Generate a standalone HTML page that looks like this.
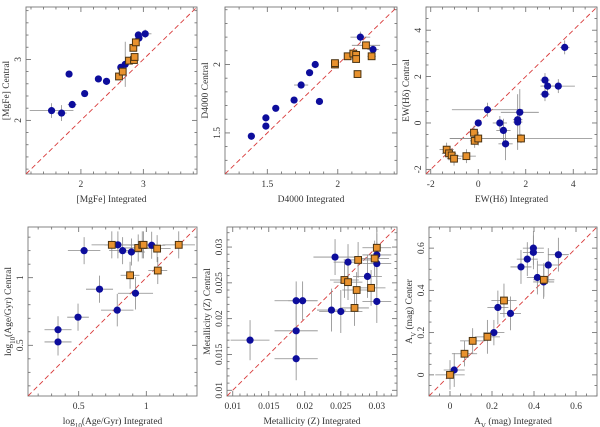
<!DOCTYPE html>
<html><head><meta charset="utf-8"><style>
html,body{margin:0;padding:0;background:#fff}
svg{display:block}
text{font-family:"Liberation Serif",serif;font-size:9.5px;fill:#333}
</style></head><body>
<svg id="chart" width="600" height="427" viewBox="0 0 600 427" xmlns="http://www.w3.org/2000/svg"></svg>
<script>
// ---- Panel 1: [MgFe]
const mgfeBlueX=[1.53,1.69,1.86,1.81,2.06,2.28,2.41,2.64,2.71,2.92,2.93,3.03];
const mgfeBlueY=[2.16,2.12,2.26,2.76,2.44,2.68,2.64,2.87,2.92,3.40,3.35,3.42];
const mgfeBlueEX=[0.35,0.08,0.07,0.03,0.03,0.03,0.03,0.03,0.05,0.03,0.03,0.1];
const mgfeBlueEY=[0.12,0.13,0.06,0.03,0.03,0.03,0.03,0.05,0.37,0.06,0.06,0.07];
const mgfeOrX=[2.61,2.67,2.77,2.85,2.86,2.84,2.88];
const mgfeOrY=[2.72,2.80,2.98,2.99,3.04,3.19,3.28];
const mgfeOrEX=[0.03,0.03,0.03,0.03,0.03,0.03,0.03];
const mgfeOrEY=[0.03,0.03,0.03,0.03,0.03,0.03,0.03];
const mgfeTicks=["2","3"];
// ---- Panel 2: D4000
const dBlueX=[1.387,1.49,1.49,1.56,1.69,1.74,1.80,1.84,1.87,2.16,2.25];
const dBlueY=[1.476,1.55,1.61,1.68,1.74,1.85,1.94,2.00,1.73,2.20,2.11];
const dBlueEX=[0.01,0.01,0.01,0.01,0.01,0.05,0.01,0.01,0.01,0.07,0.04];
const dBlueEY=[0.01,0.01,0.01,0.01,0.01,0.01,0.01,0.01,0.01,0.04,0.03];
const dOrX=[1.98,1.98,2.07,2.11,2.13,2.13,2.20,2.24,2.14];
const dOrY=[2.00,2.01,2.06,2.08,2.07,2.04,2.14,2.06,1.93];
const dOrEX=[0.01,0.01,0.01,0.01,0.01,0.01,0.1,0.03,0.01];
const dOrEY=[0.01,0.01,0.01,0.01,0.01,0.01,0.02,0.02,0.01];
const dTicks=["1.5","2"];
// ---- Panel 3: EW(Hdelta)
const hBlueX=[3.64,2.81,2.92,3.37,2.81,0.39,0,1.75,1.66,1.66,0.91,1.06,1.15];
const hBlueY=[3.26,1.85,1.59,1.59,1.24,0.57,0,0.46,0.14,0.04,0,-0.32,-0.9];
const hBlueEX=[0.2,0.2,0.3,0.7,0.2,1.5,0.1,0.8,0.2,0.2,0.3,0.3,0.3];
const hBlueEY=[0.3,0.3,0.3,0.3,0.3,0.3,0.1,1.0,0.3,1.2,0.3,0.5,0.7];
const hOrX=[-0.18,-0.15,0,1.8,-1.33,-1.23,-1.12,-1.02,-0.5];
const hOrY=[-0.42,-0.77,-0.67,-0.67,-1.15,-1.31,-1.4,-1.54,-1.43];
const hOrEX=[0.2,0.2,1.2,3.0,0.3,0.3,0.3,0.3,0.4];
const hOrEY=[0.3,0.3,0.3,0.2,0.3,0.3,0.3,0.3,0.3];
const hTicks=["-2","0","2","4"];
// ---- Panel 4: log Age
const aBlueX=[0.347,0.347,0.495,0.54,0.654,0.785,0.92,0.79,0.825,0.89,1.04];
const aBlueY=[0.615,0.525,0.708,1.20,0.915,0.76,0.885,1.243,1.20,1.19,1.24];
const aBlueEX=[0.1,0.1,0.08,0.12,0.1,0.12,0.13,0.1,0.1,0.1,0.1];
const aBlueEY=[0.1,0.1,0.1,0.1,0.1,0.12,0.12,0.1,0.1,0.1,0.1];
const aOrX=[0.745,0.94,0.97,0.98,1.08,0.88,1.085,1.24];
const aOrY=[1.243,1.22,1.243,1.243,1.215,1.018,1.053,1.243];
const aOrEX=[0.15,0.1,0.1,0.1,0.1,0.07,0.07,0.12];
const aOrEY=[0.1,0.1,0.1,0.1,0.1,0.1,0.1,0.1];
const aTicks=["0.5","1"];
// ---- Panel 5: Metallicity
const zBlueX=[0.0124,0.0188,0.0197,0.0188,0.0188,0.0237,0.0250,0.0242,0.0260,0.0287,0.0300,0.0300,0.0300];
const zBlueY=[0.0170,0.0225,0.0225,0.0183,0.0144,0.0212,0.0210,0.0286,0.0279,0.0259,0.0289,0.0277,0.0224];
const zBlueEX=[0.0027,0.003,0.002,0.003,0.003,0.002,0.003,0.003,0.002,0.002,0.002,0.002,0.002];
const zBlueEY=[0.0028,0.0027,0.0027,0.0035,0.003,0.003,0.003,0.0025,0.0025,0.003,0.003,0.003,0.003];
const zOrX=[0.0255,0.0260,0.0274,0.0272,0.0269,0.0292,0.0297,0.0300];
const zOrY=[0.0254,0.0251,0.0282,0.0240,0.0215,0.0243,0.0284,0.0299];
const zOrEX=[0.002,0.002,0.002,0.002,0.002,0.002,0.002,0.002];
const zOrEY=[0.0025,0.0025,0.0025,0.0025,0.0025,0.0025,0.0025,0.0025];
const zTicks=["0.01","0.015","0.02","0.025","0.03"];
// ---- Panel 6: Av
const vBlueX=[0.397,0.397,0.368,0.338,0.516,0.468,0.416,0.446,0.228,0.288,0.209,0.02];
const vBlueY=[0.60,0.58,0.548,0.511,0.569,0.52,0.461,0.44,0.319,0.291,0.20,0.023];
const vBlueEX=[0.05,0.05,0.05,0.05,0.05,0.05,0.05,0.05,0.05,0.05,0.05,0.05];
const vBlueEY=[0.08,0.08,0.08,0.08,0.08,0.08,0.08,0.08,0.08,0.08,0.06,0.08];
const vOrX=[0.257,0.178,0.108,0.069,0,0.447];
const vOrY=[0.352,0.18,0.161,0.10,0,0.45];
const vOrEX=[0.06,0.06,0.06,0.06,0.07,0.05];
const vOrEY=[0.08,0.08,0.06,0.06,0.07,0.08];
const vTicks=["0","0.2","0.4","0.6"];

const NS="http://www.w3.org/2000/svg";
const svg=document.getElementById('chart');
function mk(tag,attrs,parent){const e=document.createElementNS(NS,tag);for(const k in attrs)e.setAttribute(k,attrs[k]);(parent||svg).appendChild(e);return e;}

const panels=[
 {id:'mgfe',box:[26,7,197,174],r:[1.12,3.86],maj:1,min:0.2,ticks:mgfeTicks,xl:'[MgFe] Integrated',yl:'[MgFe] Central',bx:mgfeBlueX,by:mgfeBlueY,bex:mgfeBlueEX,bey:mgfeBlueEY,ox:mgfeOrX,oy:mgfeOrY,oex:mgfeOrEX,oey:mgfeOrEY},
 {id:'d4000',box:[225,7,397,174],r:[1.2,2.42],maj:0.5,min:0.1,ticks:dTicks,xl:'D4000 Integrated',yl:'D4000 Central',bx:dBlueX,by:dBlueY,bex:dBlueEX,bey:dBlueEY,ox:dOrX,oy:dOrY,oex:dOrEX,oey:dOrEY},
 {id:'hdelta',box:[426,7,597,174],r:[-2.2,5],maj:2,min:0.5,ticks:hTicks,xl:'EW(Hδ) Integrated',yl:'EW(Hδ) Central',bx:hBlueX,by:hBlueY,bex:hBlueEX,bey:hBlueEY,ox:hOrX,oy:hOrY,oex:hOrEX,oey:hOrEY},
 {id:'age',box:[28,227,197,396],r:[0.125,1.375],maj:0.5,min:0.1,ticks:aTicks,xl:'log10age Integrated',yl:'log10age Central',bx:aBlueX,by:aBlueY,bex:aBlueEX,bey:aBlueEY,ox:aOrX,oy:aOrY,oex:aOrEX,oey:aOrEY},
 {id:'metal',box:[227,227,397,396],r:[0.0092,0.0328],maj:0.005,min:0.001,ticks:zTicks,xl:'Metallicity (Z) Integrated',yl:'Metallicity (Z) Central',bx:zBlueX,by:zBlueY,bex:zBlueEX,bey:zBlueEY,ox:zOrX,oy:zOrY,oex:zOrEX,oey:zOrEY},
 {id:'av',box:[429,227,597,396],r:[-0.1,0.7],maj:0.2,min:0.05,ticks:vTicks,xl:'AV (mag) Integrated',yl:'AV (mag) Center',bx:vBlueX,by:vBlueY,bex:vBlueEX,bey:vBlueEY,ox:vOrX,oy:vOrY,oex:vOrEX,oey:vOrEY}
];

function label(el,txt){
  if(txt.startsWith('log10age')){
    el.appendChild(document.createTextNode('log'));
    const s=mk('tspan',{'baseline-shift':'sub','font-size':'7'},el);s.textContent='10';
    const t=mk('tspan',{},el);t.textContent='(Age/Gyr)'+txt.slice(8);
  } else if(txt.startsWith('AV')){
    el.appendChild(document.createTextNode('A'));
    const s=mk('tspan',{'baseline-shift':'sub','font-size':'7'},el);s.textContent='V';
    const t=mk('tspan',{},el);t.textContent=txt.slice(2);
  } else el.textContent=txt;
}

panels.forEach((p,pi)=>{
  const [x0,y0,x1,y1]=p.box,[lo,hi]=p.r;
  const sx=v=>x0+(v-lo)/(hi-lo)*(x1-x0);
  const sy=v=>y1-(v-lo)/(hi-lo)*(y1-y0);
  const g=mk('g',{});
  
  
  const cid='clip'+pi;
  const cp=mk('clipPath',{id:cid},g);mk('rect',{x:x0,y:y0,width:x1-x0,height:y1-y0},cp);
  // ticks
  const tg=mk('g',{stroke:'#666','stroke-width':0.8},g);
  
  
  const n0=Math.ceil(lo/p.min-1e-6),n1=Math.floor(hi/p.min+1e-6);
  const ratio=Math.round(p.maj/p.min);
  for(let n=n0;n<=n1;n++){
    const v=n*p.min,isMaj=(((n%ratio)+ratio)%ratio)===0,L=isMaj?5:2.5;
    const X=sx(v),Y=sy(v);
    mk('line',{x1:X,y1:y1,x2:X,y2:y1-L},tg);mk('line',{x1:X,y1:y0,x2:X,y2:y0+L},tg);
    mk('line',{x1:x0,y1:Y,x2:x0+L,y2:Y},tg);mk('line',{x1:x1,y1:Y,x2:x1-L,y2:Y},tg);
  }
  p.ticks.forEach(t=>{
    const v=parseFloat(t);
    const tx=mk('text',{x:sx(v),y:y1+13,'text-anchor':'middle'},g);tx.textContent=t;
    
    
    const ty=mk('text',{x:x0-5,y:sy(v),'text-anchor':'middle',transform:`rotate(-90 ${x0-5} ${sy(v)})`},g);ty.textContent=t;
    
    
  });
  mk('rect',{x:x0,y:y0,width:x1-x0,height:y1-y0,fill:'none',stroke:'#777','stroke-width':0.9},g);
  const xl=mk('text',{x:(x0+x1)/2,y:y1+28,'text-anchor':'middle'},g);label(xl,p.xl);
  
  
  const yx=x0-17,yy=(y0+y1)/2;
  const yl=mk('text',{x:yx,y:yy,'text-anchor':'middle',transform:`rotate(-90 ${yx} ${yy})`},g);label(yl,p.yl);
  
  
  const pg=mk('g',{'clip-path':`url(#${cid})`},g);
  const diag=mk('line',{x1:sx(lo),y1:sy(lo),x2:sx(hi),y2:sy(hi),stroke:'#d83a3a','stroke-width':0.9,'stroke-dasharray':'5,3'},pg);
  
  
  const eg=mk('g',{stroke:'#8a8a8a','stroke-width':0.8},pg);
  function errs(xs,ys,ex,ey){xs.forEach((x,i)=>{
    mk('line',{x1:sx(x-ex[i]),y1:sy(ys[i]),x2:sx(x+ex[i]),y2:sy(ys[i])},eg);
    mk('line',{x1:sx(x),y1:sy(ys[i]-ey[i]),x2:sx(x),y2:sy(ys[i]+ey[i])},eg);});}
  errs(p.bx,p.by,p.bex,p.bey);errs(p.ox,p.oy,p.oex,p.oey);
  p.bx.forEach((x,i)=>{
    const c=mk('circle',{cx:sx(x),cy:sy(p.by[i]),r:3.6,fill:'#0d0d9c'},pg);
    
    
  });
  p.ox.forEach((x,i)=>{
    const s=mk('rect',{x:sx(x)-3.4,y:sy(p.oy[i])-3.4,width:6.8,height:6.8,fill:'#e8922e',stroke:'#4a3210','stroke-width':1},pg);
    
    
  });
});
</script>
</body></html>
